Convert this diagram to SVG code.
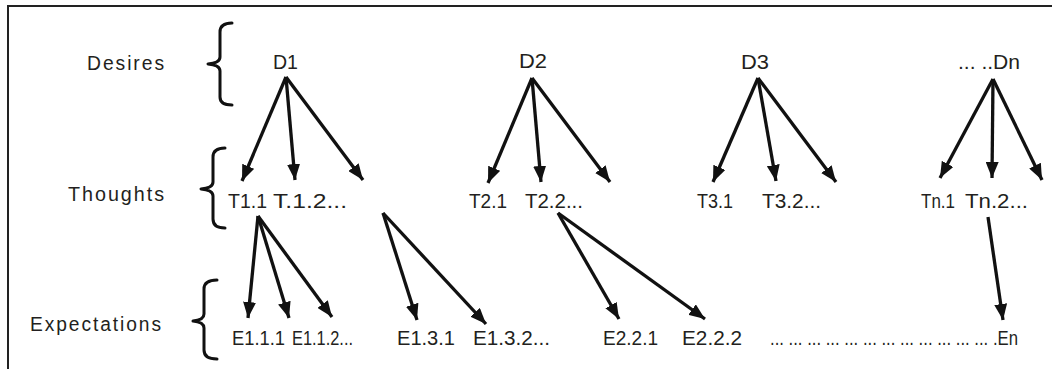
<svg xmlns="http://www.w3.org/2000/svg" width="1052" height="369" viewBox="0 0 1052 369">
<style>
text{font-family:"Liberation Sans",Arial,sans-serif;font-size:20px;fill:#231f20}
.rl{letter-spacing:2px}
.c line{stroke:#111;stroke-width:3.3;marker-end:url(#ah)}
.br{fill:none;stroke:#111;stroke-width:3;stroke-linecap:round;stroke-linejoin:round}
.fr{stroke:#222;stroke-width:2;fill:none}
</style>
<defs>
<marker id="ah" markerUnits="userSpaceOnUse" markerWidth="16" markerHeight="13" viewBox="0 0 16 13" refX="16" refY="6.5" orient="auto">
<path d="M0,0 L16,6.5 L0,13 z" fill="#111"/>
</marker>
</defs>
<rect width="1052" height="369" fill="#fff"/>
<path class="fr" d="M8,369 L8,6 L1052,6"/>
<g id="row-labels">
<text class="rl" x="87" y="70" textLength="79" lengthAdjust="spacingAndGlyphs">Desires</text>
<text class="rl" x="68" y="201" textLength="98" lengthAdjust="spacingAndGlyphs">Thoughts</text>
<text class="rl" x="30" y="331" textLength="133" lengthAdjust="spacingAndGlyphs">Expectations</text>
</g>
<g id="braces">
<path class="br" d="M232,23 Q220,23 220,32 L220,57 Q220,63 208,64 Q220,65 220,71 L220,97 Q220,105 232,105"/>
<path class="br" d="M225,148 Q213,148 213,157 L213,182 Q213,188 201,189 Q213,190 213,196 L213,219 Q213,228 225,228"/>
<path class="br" d="M217,280 Q204,280 204,289 L204,314 Q204,320 193,321 Q204,322 204,328 L204,350 Q204,359 217,359"/>
</g>
<g id="D1"><text x="273" y="69" textLength="25" lengthAdjust="spacingAndGlyphs">D1</text></g>
<g id="D2"><text x="519" y="68" textLength="28" lengthAdjust="spacingAndGlyphs">D2</text></g>
<g id="D3"><text x="741" y="69" textLength="28" lengthAdjust="spacingAndGlyphs">D3</text></g>
<g id="Dn"><text x="958" y="69" textLength="62" lengthAdjust="spacingAndGlyphs">... ..Dn</text></g>
<g id="T1.1"><text x="228" y="208" textLength="39" lengthAdjust="spacingAndGlyphs">T1.1</text></g>
<g id="T.1.2"><text x="273" y="208" textLength="74" lengthAdjust="spacingAndGlyphs">T.1.2...</text></g>
<g id="T2.1"><text x="469" y="208" textLength="38" lengthAdjust="spacingAndGlyphs">T2.1</text></g>
<g id="T2.2"><text x="525" y="208" textLength="58" lengthAdjust="spacingAndGlyphs">T2.2...</text></g>
<g id="T3.1"><text x="697" y="208" textLength="36" lengthAdjust="spacingAndGlyphs">T3.1</text></g>
<g id="T3.2"><text x="762" y="208" textLength="59" lengthAdjust="spacingAndGlyphs">T3.2...</text></g>
<g id="Tn.1"><text x="921" y="208" textLength="34" lengthAdjust="spacingAndGlyphs">Tn.1</text></g>
<g id="Tn.2"><text x="965" y="208" textLength="63" lengthAdjust="spacingAndGlyphs">Tn.2...</text></g>
<g id="E1.1.1"><text x="232" y="345" textLength="53" lengthAdjust="spacingAndGlyphs">E1.1.1</text></g>
<g id="E1.1.2"><text x="292" y="345" textLength="61" lengthAdjust="spacingAndGlyphs">E1.1.2...</text></g>
<g id="E1.3.1"><text x="397" y="345" textLength="58" lengthAdjust="spacingAndGlyphs">E1.3.1</text></g>
<g id="E1.3.2"><text x="473" y="345" textLength="77" lengthAdjust="spacingAndGlyphs">E1.3.2...</text></g>
<g id="E2.2.1"><text x="603" y="345" textLength="55" lengthAdjust="spacingAndGlyphs">E2.2.1</text></g>
<g id="E2.2.2"><text x="682" y="345" textLength="60" lengthAdjust="spacingAndGlyphs">E2.2.2</text></g>
<g id="En"><text x="770" y="345" textLength="248" lengthAdjust="spacingAndGlyphs">... ... ... ... ... ... ... ... ... ... ... ... .En</text></g>
<g id="connectors" class="c">
<line x1="286" y1="77" x2="242" y2="181"/>
<line x1="286" y1="77" x2="295" y2="180"/>
<line x1="286" y1="77" x2="363" y2="180"/>
<line x1="532" y1="78" x2="488" y2="183"/>
<line x1="532" y1="78" x2="541" y2="182"/>
<line x1="532" y1="78" x2="610" y2="182"/>
<line x1="758" y1="78" x2="713" y2="182"/>
<line x1="758" y1="78" x2="776" y2="181"/>
<line x1="758" y1="78" x2="836" y2="182"/>
<line x1="993" y1="79" x2="940" y2="178"/>
<line x1="993" y1="79" x2="992" y2="178"/>
<line x1="993" y1="79" x2="1042" y2="180"/>
<line x1="258" y1="216" x2="248" y2="318"/>
<line x1="258" y1="216" x2="289" y2="318"/>
<line x1="258" y1="216" x2="332" y2="317"/>
<line x1="383" y1="213" x2="417" y2="320"/>
<line x1="383" y1="213" x2="486" y2="324"/>
<line x1="558" y1="213" x2="619" y2="319"/>
<line x1="558" y1="213" x2="705" y2="319"/>
<line x1="988" y1="217" x2="1003" y2="320"/>
</g>
</svg>
